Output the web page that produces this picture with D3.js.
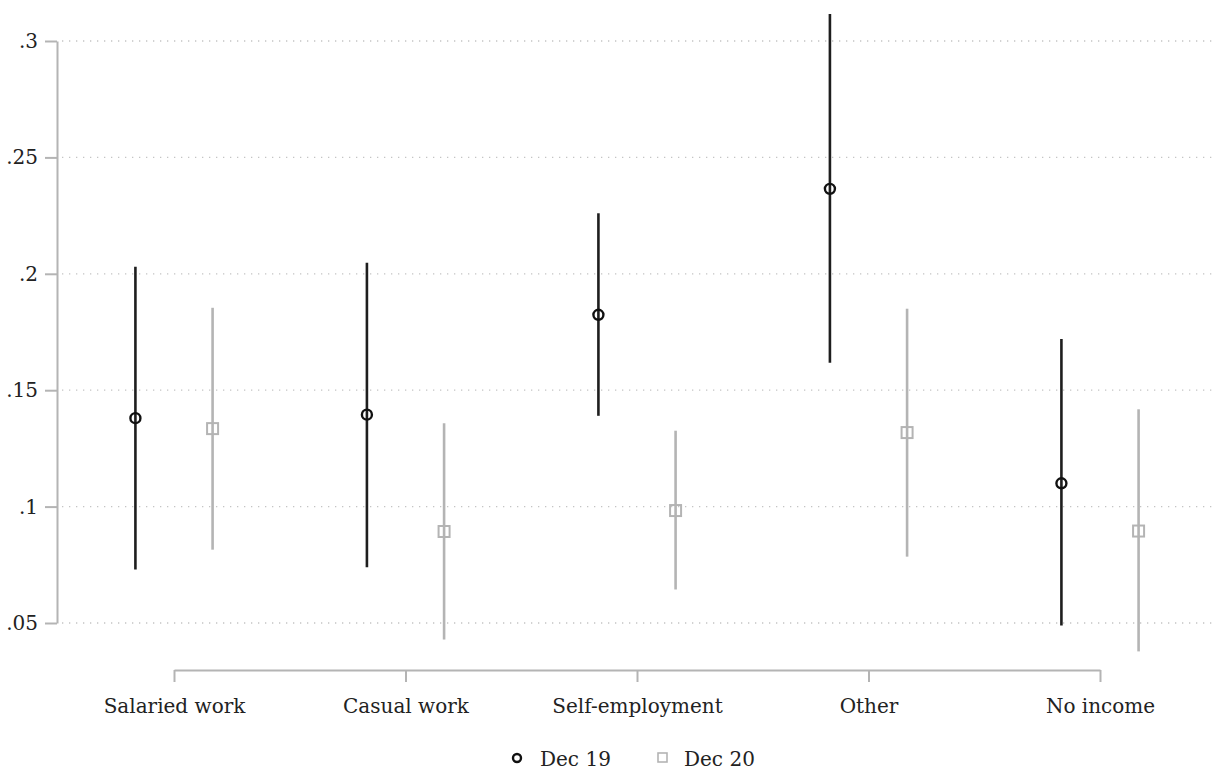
<!DOCTYPE html>
<html>
<head>
<meta charset="utf-8">
<script src="https://cdn.jsdelivr.net/npm/d3@7"></script>
<style>
  body { margin: 0; background: #fff; }
  text { font-family: "DejaVu Serif", serif; fill: #222; }
</style>
</head>
<body>
<div id="chart"></div>
<script>
// categories and estimates
const categories = ["Salaried work", "Casual work", "Self-employment", "Other", "No income"];
const dec19 = [0.138, 0.1395, 0.1824, 0.2365, 0.110];
const dec19Lo = [0.073, 0.0740, 0.139, 0.1618, 0.0489];
const dec19Hi = [0.203, 0.2047, 0.226, 0.3116, 0.172];
const dec20 = [0.1335, 0.0893, 0.0983, 0.1318, 0.0895];
const dec20Lo = [0.0815, 0.0429, 0.0644, 0.0785, 0.0378];
const dec20Hi = [0.1854, 0.1358, 0.1326, 0.185, 0.1418];
const yTicks = [0.05, 0.1, 0.15, 0.2, 0.25, 0.3];
const seriesNames = ["Dec 19", "Dec 20"];

const width = 1216, height = 777;

let svg = d3.select("#chart").append("svg")
    .attr("width", width)
    .attr("height", height);

let y = d3.scaleLinear().domain([0.05, 0.3]).range([623, 41]);
let x = d3.scaleLinear().domain([0, categories.length - 1]).range([174, 1100]);
let dodge = 1 / 6;

// dotted gridlines
svg.append("g")
    .selectAll("line")
    .data(yTicks)
    .enter()
    .append("line")
    .attr("x1", 62)
    .attr("x2", width)
    .attr("y1", d => y(d))
    .attr("y2", d => y(d))
    .attr("stroke", "#c4c4c4")
    .attr("stroke-width", 1.3)
    .attr("stroke-dasharray", "1.3,5.7");

// y axis
let yAxis = svg.append("g")
    .attr("transform", "translate(57,0)")
    .call(d3.axisLeft(y)
        .tickValues(yTicks)
        .tickSize(12)
        .tickSizeOuter(0)
        .tickPadding(7)
        .tickFormat(d => d3.format(".2~f")(d).replace(/^0/, "")));

// x axis
let xAxis = svg.append("g")
    .attr("transform", "translate(0,670)")
    .call(d3.axisBottom(x)
        .tickValues(d3.range(categories.length))
        .tickSize(12)
        .tickSizeOuter(0)
        .tickPadding(17)
        .tickFormat(i => categories[i]));

[yAxis, xAxis].forEach(a => {
    a.select(".domain").attr("stroke", "#b4b4b4").attr("stroke-width", 2);
    a.selectAll(".tick line").attr("stroke", "#b4b4b4").attr("stroke-width", 2);
    a.selectAll(".tick text")
        .style("font-family", "'DejaVu Serif', serif")
        .style("font-size", "20px")
        .attr("fill", "#1a1a1a");
});

// series data built from arrays
let series = [
    {name: seriesNames[0], est: dec19, lo: dec19Lo, hi: dec19Hi, shift: -dodge, color: "#1e1e1e", marker: "circle"},
    {name: seriesNames[1], est: dec20, lo: dec20Lo, hi: dec20Hi, shift: dodge, color: "#b4b4b4", marker: "square"}
];

series.forEach(s => {
    let g = svg.append("g");
    let pts = categories.map((c, i) => ({i: i, est: s.est[i], lo: s.lo[i], hi: s.hi[i]}));

    // confidence intervals
    g.selectAll("line")
        .data(pts)
        .enter()
        .append("line")
        .attr("x1", d => x(d.i + s.shift))
        .attr("x2", d => x(d.i + s.shift))
        .attr("y1", d => y(d.lo))
        .attr("y2", d => y(d.hi))
        .attr("stroke", s.color)
        .attr("stroke-width", 2.6);

    // point estimates
    if (s.marker === "circle") {
        g.selectAll("circle")
            .data(pts)
            .enter()
            .append("circle")
            .attr("cx", d => x(d.i + s.shift))
            .attr("cy", d => y(d.est))
            .attr("r", 5)
            .attr("fill", "none")
            .attr("stroke", "#111")
            .attr("stroke-width", 2.4);
    } else {
        g.selectAll("rect")
            .data(pts)
            .enter()
            .append("rect")
            .attr("x", d => x(d.i + s.shift) - 5.5)
            .attr("y", d => y(d.est) - 5.5)
            .attr("width", 11)
            .attr("height", 11)
            .attr("fill", "none")
            .attr("stroke", s.color)
            .attr("stroke-width", 2);
    }
});

// legend
let legend = svg.append("g").attr("transform", "translate(0,758)");

legend.append("circle")
    .attr("cx", 517)
    .attr("cy", 0)
    .attr("r", 4)
    .attr("fill", "none")
    .attr("stroke", "#111")
    .attr("stroke-width", 2.4);
legend.append("text")
    .attr("x", 540)
    .attr("y", 8)
    .style("font-size", "20px")
    .text(seriesNames[0]);

legend.append("rect")
    .attr("x", 658)
    .attr("y", -5)
    .attr("width", 9)
    .attr("height", 9)
    .attr("fill", "none")
    .attr("stroke", series[1].color)
    .attr("stroke-width", 1.6);
legend.append("text")
    .attr("x", 684)
    .attr("y", 8)
    .style("font-size", "20px")
    .text(seriesNames[1]);
</script>
</body>
</html>
